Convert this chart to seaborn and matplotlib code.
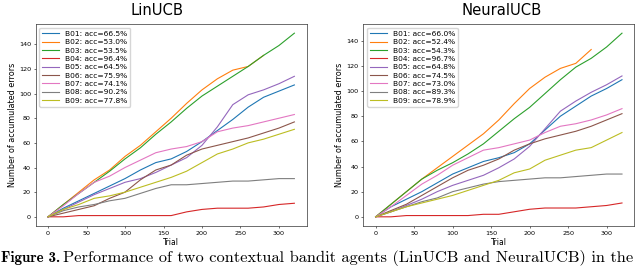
import numpy as np
import pandas as pd
import matplotlib
matplotlib.use('Agg')
import matplotlib.pyplot as plt
import seaborn as sns

plt.rcParams['font.family'] = ['DejaVu Sans']
plt.rcParams['axes.linewidth'] = 0.5
plt.rcParams['axes.edgecolor'] = '#333333'
plt.rcParams['xtick.major.size'] = 1.6
plt.rcParams['ytick.major.size'] = 1.6
plt.rcParams['xtick.major.width'] = 0.4
plt.rcParams['ytick.major.width'] = 0.4
plt.rcParams['xtick.major.pad'] = 1.8
plt.rcParams['ytick.major.pad'] = 1.8

# 试验次数（每20次读一个点）
trials = [0, 20, 40, 60, 80, 100, 120, 140, 160, 180, 200, 220, 240, 260, 280, 300, 320]
agents = ['B01', 'B02', 'B03', 'B04', 'B05', 'B06', 'B07', 'B08', 'B09']
acc_lin = [66.5, 53.0, 53.5, 96.4, 64.5, 75.9, 74.1, 90.2, 77.8]
acc_neural = [66.0, 52.4, 54.3, 96.7, 64.8, 74.5, 73.0, 89.3, 78.9]

# LinUCB 累计错误数
lin_b01 = [0, 7, 13, 19, 25, 31, 38, 44, 47, 53, 61, 70, 79, 89, 97, 102, 107]
lin_b02 = [0, 10, 20, 30, 38, 49, 58, 69, 80, 92, 103, 112, 119, 122, 131]
lin_b03 = [0, 10, 19, 28, 37, 47, 56, 67, 77, 88, 98, 106, 114, 122, 131, 139, 149]
lin_b04 = [0, 0, 1, 1, 1, 1, 1, 1, 1, 4, 6, 7, 7, 7, 8, 10, 11]
lin_b05 = [0, 6, 12, 18, 23, 28, 31, 36, 42, 48, 58, 73, 91, 99, 103, 108, 114]
lin_b06 = [0, 3, 6, 9, 15, 20, 30, 38, 42, 50, 55, 58, 61, 64, 68, 72, 77]
lin_b07 = [0, 9, 19, 28, 33, 40, 46, 52, 55, 57, 61, 69, 72, 74, 77, 80, 83]
lin_b08 = [0, 5, 8, 10, 13, 15, 19, 23, 26, 26, 27, 28, 29, 29, 30, 31, 31]
lin_b09 = [0, 6, 10, 15, 17, 20, 24, 28, 32, 37, 44, 51, 55, 60, 63, 67, 71]

# NeuralUCB 累计错误数
neu_b01 = [0, 8, 14, 20, 27, 34, 39, 44, 47, 51, 58, 69, 80, 88, 96, 102, 109]
neu_b02 = [0, 10, 20, 30, 39, 48, 57, 66, 77, 90, 102, 111, 118, 122, 133]
neu_b03 = [0, 10, 20, 30, 37, 43, 50, 58, 68, 78, 87, 98, 109, 119, 126, 135, 146]
neu_b04 = [0, 0, 1, 1, 1, 1, 1, 2, 2, 4, 6, 7, 7, 7, 8, 9, 11]
neu_b05 = [0, 4, 9, 14, 20, 25, 29, 33, 39, 46, 56, 70, 84, 92, 99, 105, 112]
neu_b06 = [0, 5, 10, 17, 24, 31, 37, 41, 46, 53, 58, 62, 65, 68, 72, 77, 82]
neu_b07 = [0, 8, 17, 26, 33, 41, 47, 53, 55, 58, 61, 67, 72, 74, 77, 81, 86]
neu_b08 = [0, 4, 8, 12, 15, 20, 23, 26, 28, 29, 30, 31, 31, 32, 33, 34, 34]
neu_b09 = [0, 4, 8, 11, 14, 17, 21, 25, 29, 35, 38, 45, 49, 53, 55, 61, 67]

lin_series = [lin_b01, lin_b02, lin_b03, lin_b04, lin_b05, lin_b06, lin_b07, lin_b08, lin_b09]
neu_series = [neu_b01, neu_b02, neu_b03, neu_b04, neu_b05, neu_b06, neu_b07, neu_b08, neu_b09]


def make_df(series, accs):
    rows = []
    for name, vals, acc in zip(agents, series, accs):
        label = '%s: acc=%.1f%%' % (name, acc)
        for t, v in zip(trials, vals):
            rows.append({'Trial': t, 'errors': v, 'agent': label})
    return pd.DataFrame(rows)


palette = sns.color_palette('tab10', 9)

fig = plt.figure(figsize=(6.4, 2.66), dpi=100)
ax1 = fig.add_axes([0.0558, 0.1504, 0.4234, 0.7594])
ax2 = fig.add_axes([0.5677, 0.1504, 0.4234, 0.7594])

for ax, series, accs, title, tx in [(ax1, lin_series, acc_lin, 'LinUCB', 0.448),
                                    (ax2, neu_series, acc_neural, 'NeuralUCB', 0.511)]:
    df = make_df(series, accs)
    sns.lineplot(data=df, x='Trial', y='errors', hue='agent', palette=palette,
                 errorbar=None, linewidth=0.8, ax=ax)
    ax.set_title(title, fontsize=10.6, x=tx, pad=6.2)
    ax.set_xlabel('Trial', fontsize=5.5, labelpad=1.5)
    ax.set_ylabel('Number of accumulated errors', fontsize=5.8, labelpad=1.5)
    ax.set_xticks([0, 50, 100, 150, 200, 250, 300])
    ax.set_yticks([0, 20, 40, 60, 80, 100, 120, 140])
    ax.tick_params(labelsize=4.6)
    ax.legend(loc='upper left', fontsize=5.4, handlelength=2.2,
              labelspacing=0.28, borderpad=0.4, handletextpad=0.8)

# 图注（原图底部只露出上半截）
fig.text(0.002, 0.016, 'Figure 3.', family='cmb10', fontsize=10.8, ha='left', va='baseline')
fig.text(0.098, 0.016, 'Performance of two contextual bandit agents (LinUCB and NeuralUCB) in the',
         family='cmr10', fontsize=11.8, ha='left', va='baseline')

plt.savefig('out.png', dpi=100)
